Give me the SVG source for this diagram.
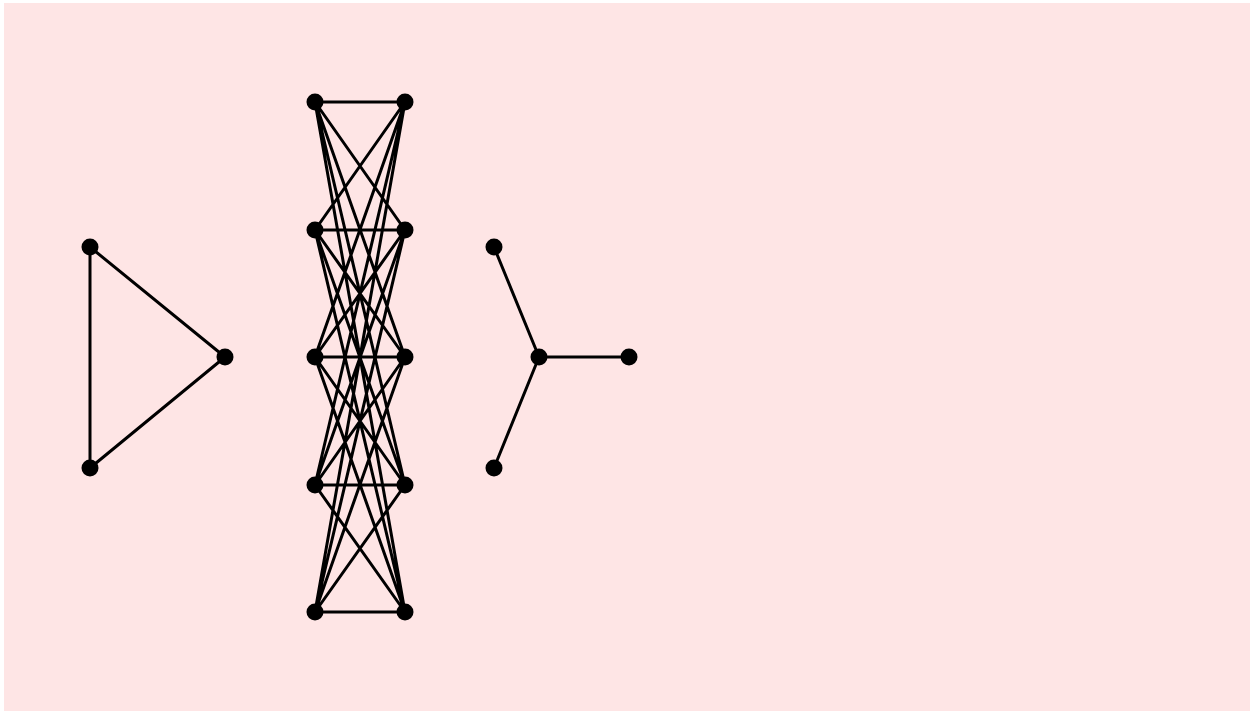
<svg xmlns="http://www.w3.org/2000/svg" width="1254" height="711" viewBox="0 0 1254 711">
<style>
.e{stroke:#000;stroke-width:3;fill:none}
.n{fill:#000}
</style>
<rect x="4" y="3" width="1246" height="708" fill="#fee5e5"/>
<g id="connectors">
<path class="e" d="M90,247L225,357M225,357L90,468M90,468L90,247"/>
<path class="e" d="M315,102L405,102M315,102L405,230M315,102L405,357M315,102L405,485M315,102L405,612
M315,230L405,102M315,230L405,230M315,230L405,357M315,230L405,485M315,230L405,612
M315,357L405,102M315,357L405,230M315,357L405,357M315,357L405,485M315,357L405,612
M315,485L405,102M315,485L405,230M315,485L405,357M315,485L405,485M315,485L405,612
M315,612L405,102M315,612L405,230M315,612L405,357M315,612L405,485M315,612L405,612"/>
<path class="e" d="M539,357L494,247M539,357L494,468M539,357L629,357"/>
</g>
<g id="n1"><circle class="n" cx="90" cy="247" r="8.5"/></g>
<g id="n2"><circle class="n" cx="225" cy="357" r="8.5"/></g>
<g id="n3"><circle class="n" cx="90" cy="468" r="8.5"/></g>
<g id="a1"><circle class="n" cx="315" cy="102" r="8.5"/></g>
<g id="a2"><circle class="n" cx="315" cy="230" r="8.5"/></g>
<g id="a3"><circle class="n" cx="315" cy="357" r="8.5"/></g>
<g id="a4"><circle class="n" cx="315" cy="485" r="8.5"/></g>
<g id="a5"><circle class="n" cx="315" cy="612" r="8.5"/></g>
<g id="b1"><circle class="n" cx="405" cy="102" r="8.5"/></g>
<g id="b2"><circle class="n" cx="405" cy="230" r="8.5"/></g>
<g id="b3"><circle class="n" cx="405" cy="357" r="8.5"/></g>
<g id="b4"><circle class="n" cx="405" cy="485" r="8.5"/></g>
<g id="b5"><circle class="n" cx="405" cy="612" r="8.5"/></g>
<g id="s1"><circle class="n" cx="494" cy="247" r="8.5"/></g>
<g id="s2"><circle class="n" cx="539" cy="357" r="8.5"/></g>
<g id="s3"><circle class="n" cx="494" cy="468" r="8.5"/></g>
<g id="s4"><circle class="n" cx="629" cy="357" r="8.5"/></g>
</svg>
